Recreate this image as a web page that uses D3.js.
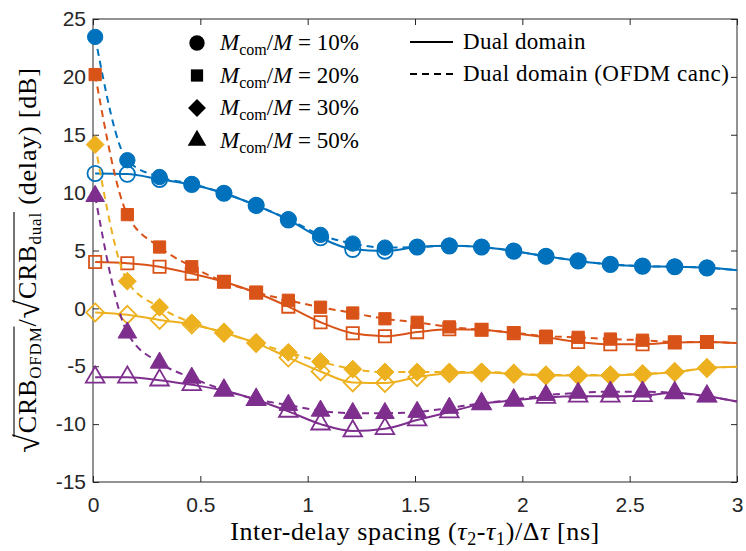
<!DOCTYPE html>
<html>
<head>
<meta charset="utf-8" />
<title>CRB ratio vs inter-delay spacing</title>
<style>
  body { margin: 0; background: #fff; }
</style>
</head>
<body>
<svg width="746" height="551"></svg>
<script src="https://cdn.jsdelivr.net/npm/d3@7"></script>
<script>
// spacing of the markers, the curves go on to 3
var spacing = [0.01, 0.16, 0.31, 0.46, 0.61, 0.76, 0.91, 1.06, 1.21, 1.36,
               1.51, 1.66, 1.81, 1.96, 2.11, 2.26, 2.41, 2.56, 2.71, 2.86];
var spacingEnd = 3;

var ratios = ['10%', '20%', '30%', '50%'];

// Dual domain (solid line, open markers)
var dual10 = [11.65, 11.6, 11.15, 10.7, 9.95, 8.9, 7.65, 6.1, 5.1, 4.95,
              5.3, 5.4, 5.3, 4.95, 4.5, 4.1, 3.8, 3.65, 3.6, 3.5];
var dual20 = [4.0, 3.9, 3.6, 3.0, 2.3, 1.35, 0.15, -1.2, -2.15, -2.4,
              -2.05, -1.8, -1.85, -2.15, -2.5, -2.9, -3.1, -3.1, -2.95, -2.9];
var dual30 = [-0.35, -0.55, -1.0, -1.4, -2.1, -3.0, -4.25, -5.45, -6.4, -6.45,
              -5.95, -5.6, -5.55, -5.65, -5.8, -5.8, -5.8, -5.7, -5.5, -5.15];
var dual50 = [-5.95, -5.95, -6.2, -6.6, -7.1, -7.9, -8.9, -10.0, -10.6, -10.4,
              -9.65, -8.95, -8.25, -7.95, -7.7, -7.6, -7.6, -7.55, -7.3, -7.6];

// Dual domain with OFDM cancellation (dashed line, filled markers)
var canc10 = [23.45, 12.8, 11.35, 10.75, 9.95, 8.9, 7.7, 6.35, 5.6, 5.25,
              5.3, 5.4, 5.3, 4.95, 4.5, 4.1, 3.8, 3.65, 3.6, 3.5];
var canc20 = [20.2, 8.1, 5.3, 3.6, 2.3, 1.4, 0.7, 0.1, -0.4, -0.9,
              -1.2, -1.6, -1.85, -2.1, -2.4, -2.5, -2.65, -2.75, -2.9, -2.9];
var canc30 = [14.15, 2.35, 0.1, -1.25, -2.1, -3.0, -3.8, -4.6, -5.25, -5.5,
              -5.5, -5.5, -5.5, -5.6, -5.75, -5.75, -5.75, -5.65, -5.5, -5.15];
var canc50 = [9.7, -2.1, -4.7, -6.0, -7.05, -7.85, -8.35, -8.85, -9.05, -9.05,
              -8.95, -8.6, -8.2, -7.9, -7.5, -7.3, -7.2, -7.2, -7.3, -7.6];

// value of each curve at spacing 3 (no marker there)
var endDual = [3.3, -3.0, -5.05, -8.05];
var endCanc = [3.3, -3.0, -5.05, -8.05];

var xTicks = [0, 0.5, 1, 1.5, 2, 2.5, 3];
var yTicks = [-15, -10, -5, 0, 5, 10, 15, 20, 25];

var colors = ['#0072BD', '#D95319', '#EDB120', '#7E2F8E'];
var diamond = {
    draw: function (ctx, size) {
        var r = Math.sqrt(size / 2);
        ctx.moveTo(0, -r); ctx.lineTo(r, 0); ctx.lineTo(0, r); ctx.lineTo(-r, 0); ctx.closePath();
    }
};
var shapes = [d3.symbolCircle, d3.symbolSquare, diamond, d3.symbolTriangle];
var sizes = [185, 150, 160, 150];

var dual = [dual10, dual20, dual30, dual50];
var canc = [canc10, canc20, canc30, canc50];

var serif = '"Liberation Serif", "Times New Roman", serif';
var sans = '"Liberation Sans", Arial, sans-serif';
var axisColor = '#262626';

var svg = d3.select('svg');
var x = d3.scaleLinear().domain([0, 3]).range([93, 737]);
var y = d3.scaleLinear().domain([-15, 25]).range([482, 19]);

// axes, ticks inward on all four sides
var gx = svg.append('g').attr('transform', 'translate(0,482)')
    .call(d3.axisBottom(x).tickValues(xTicks).tickSizeInner(-6).tickSizeOuter(0).tickPadding(15)
        .tickFormat(function (d) { return String(d); }));
var gy = svg.append('g').attr('transform', 'translate(93,0)')
    .call(d3.axisLeft(y).tickValues(yTicks).tickSizeInner(-6).tickSizeOuter(0).tickPadding(7)
        .tickFormat(function (d) { return String(d); }));
var gt = svg.append('g').attr('transform', 'translate(0,19)')
    .call(d3.axisTop(x).tickValues(xTicks).tickSizeInner(-6).tickSizeOuter(0).tickFormat(''));
var gr = svg.append('g').attr('transform', 'translate(737,0)')
    .call(d3.axisRight(y).tickValues(yTicks).tickSizeInner(-6).tickSizeOuter(0).tickFormat(''));

[gx, gy, gt, gr].forEach(function (g) {
    g.attr('font-family', sans).attr('font-size', 21);
    g.select('.domain').remove();
    g.selectAll('line').attr('stroke', axisColor);
    g.selectAll('text').attr('fill', axisColor);
});

svg.append('rect')
    .attr('x', 93).attr('y', 19).attr('width', 737 - 93).attr('height', 482 - 19)
    .attr('fill', 'none').attr('stroke', axisColor).attr('stroke-width', 1);

var line = d3.line()
    .x(function (d) { return x(d[0]); })
    .y(function (d) { return y(d[1]); })
    .curve(d3.curveMonotoneX);

function pts(vals, end) {
    return spacing.map(function (s, i) { return [s, vals[i]]; }).concat([[spacingEnd, end]]);
}

var plot = svg.append('g');
ratios.forEach(function (r, k) {
    var c = colors[k];
    var sym = d3.symbol().type(shapes[k]).size(sizes[k]);

    plot.append('path').attr('d', line(pts(dual[k], endDual[k])))
        .attr('fill', 'none').attr('stroke', c).attr('stroke-width', 2);
    plot.selectAll('.open' + k).data(spacing).enter().append('path')
        .attr('transform', function (d, i) { return 'translate(' + x(d) + ',' + y(dual[k][i]) + ')'; })
        .attr('d', sym).attr('fill', 'none').attr('stroke', c).attr('stroke-width', 1.8);

    plot.append('path').attr('d', line(pts(canc[k], endCanc[k])))
        .attr('fill', 'none').attr('stroke', c).attr('stroke-width', 2)
        .attr('stroke-dasharray', '7,5');
    plot.selectAll('.fill' + k).data(spacing).enter().append('path')
        .attr('transform', function (d, i) { return 'translate(' + x(d) + ',' + y(canc[k][i]) + ')'; })
        .attr('d', sym).attr('fill', c).attr('stroke', c).attr('stroke-width', 1);
});

// legend: marker shapes
var leg = svg.append('g').attr('font-family', serif).attr('font-size', 23);
ratios.forEach(function (r, k) {
    var yy = 43 + k * 32.5;
    leg.append('path').attr('transform', 'translate(197,' + yy + ')')
        .attr('d', d3.symbol().type(shapes[k]).size(sizes[k])).attr('fill', '#000');
    var t = leg.append('text').attr('x', 220).attr('y', yy + 7);
    t.append('tspan').attr('font-style', 'italic').text('M');
    t.append('tspan').attr('font-size', 16).attr('dy', 5).text('com');
    t.append('tspan').attr('dy', -5).text('/');
    t.append('tspan').attr('font-style', 'italic').text('M');
    t.append('tspan').text(' = ' + r);
});

// legend: line styles
leg.append('line').attr('x1', 410).attr('x2', 453).attr('y1', 42).attr('y2', 42)
    .attr('stroke', '#000').attr('stroke-width', 2);
leg.append('text').attr('x', 463).attr('y', 49).attr('letter-spacing', 0.3).text('Dual domain');
leg.append('line').attr('x1', 410).attr('x2', 453).attr('y1', 74).attr('y2', 74)
    .attr('stroke', '#000').attr('stroke-width', 2).attr('stroke-dasharray', '7,5');
leg.append('text').attr('x', 463).attr('y', 81).attr('letter-spacing', 0.5).text('Dual domain (OFDM canc)');

// x label
var xl = svg.append('text').attr('x', 415).attr('y', 540).attr('text-anchor', 'middle')
    .attr('font-family', serif).attr('font-size', 26).attr('letter-spacing', 0.6);
xl.append('tspan').text('Inter-delay spacing (');
xl.append('tspan').attr('font-style', 'italic').text('τ');
xl.append('tspan').attr('font-size', 18).attr('dy', 5).text('2');
xl.append('tspan').attr('dy', -5).text('-');
xl.append('tspan').attr('font-style', 'italic').text('τ');
xl.append('tspan').attr('font-size', 18).attr('dy', 5).text('1');
xl.append('tspan').attr('dy', -5).text(')/Δ');
xl.append('tspan').attr('font-style', 'italic').text('τ');
xl.append('tspan').text(' [ns]');

// y label, pieces laid out one after another along the rotated baseline
var yl = svg.append('g').attr('transform', 'translate(36,260) rotate(-90)')
    .attr('font-family', serif).attr('letter-spacing', 0.8);
var pieces = [
    { t: '√', size: 34, dy: 3, rad: true },
    { t: 'CRB', size: 26, dy: 0, over: true },
    { t: 'OFDM', size: 17, dy: 5, over: true },
    { t: '/', size: 26, dy: 0 },
    { t: '√', size: 34, dy: 3, rad: true },
    { t: 'CRB', size: 26, dy: 0, over: true },
    { t: 'dual', size: 17, dy: 5, over: true },
    { t: ' (delay) [dB]', size: 26, dy: 0 }
];
var cx = 0, overs = [];
pieces.forEach(function (p) {
    var t = yl.append('text').attr('x', cx).attr('y', p.dy)
        .attr('font-size', p.size).attr('xml:space', 'preserve').text(p.t);
    var w = t.node().getComputedTextLength();
    if (p.rad) overs.push([cx + w * 0.8, cx + w]);
    if (p.over) overs[overs.length - 1][1] = cx + w;
    cx += w;
});
yl.selectAll('text').attr('transform', 'translate(' + (-cx / 2) + ',0)');
overs.forEach(function (o) {
    yl.append('line').attr('x1', o[0] - cx / 2).attr('x2', o[1] - cx / 2)
        .attr('y1', -22).attr('y2', -22).attr('stroke', '#000').attr('stroke-width', 1.1);
});
</script>
</body>
</html>
